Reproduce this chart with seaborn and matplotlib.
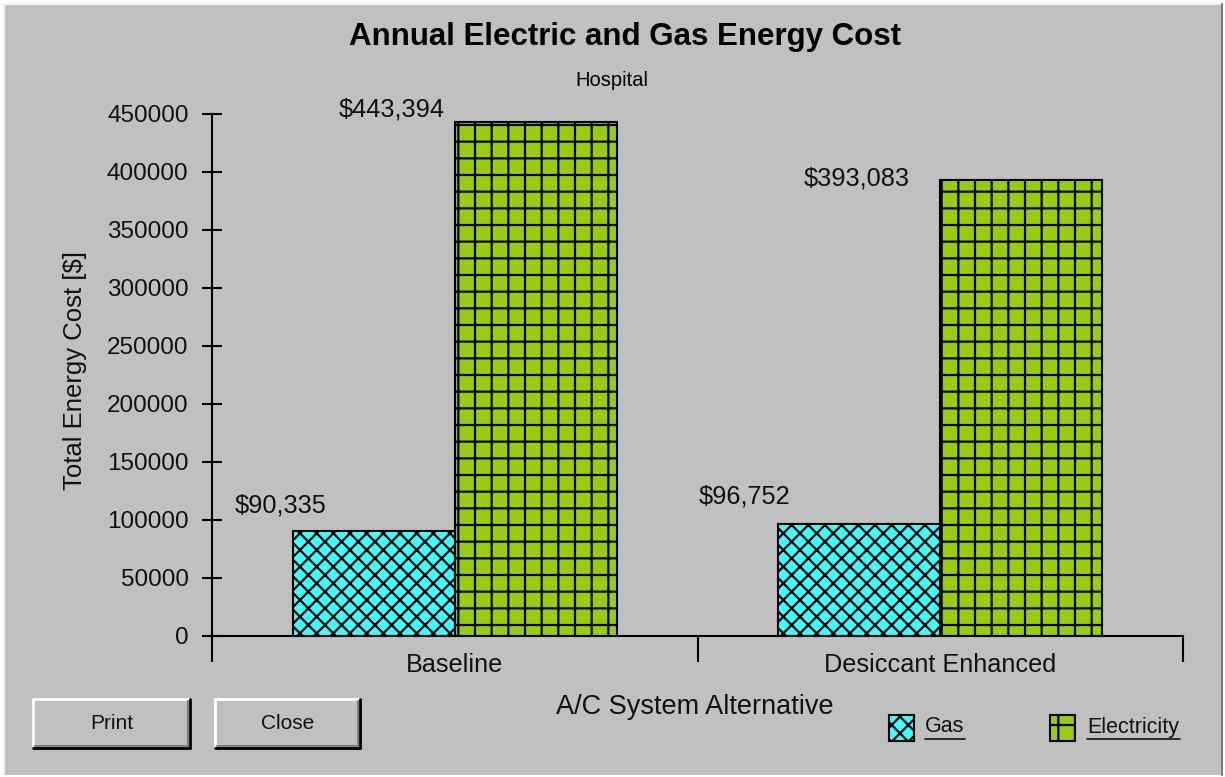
import matplotlib
matplotlib.use("Agg")
import matplotlib.pyplot as plt
from matplotlib.patches import Rectangle
from matplotlib.lines import Line2D
import seaborn as sns
import pandas as pd

# ---- data -------------------------------------------------------------
alternatives = ["Baseline", "Desiccant Enhanced"]
fuels = ["Gas", "Electricity"]
gas_cost = [90335, 96752]
electricity_cost = [443394, 393083]
y_ticks = [0, 50000, 100000, 150000, 200000, 250000, 300000, 350000, 400000, 450000]

title = "Annual Electric and Gas Energy Cost"
subtitle = "Hospital"
x_label = "A/C System Alternative"
y_label = "Total Energy Cost [$]"

# ---- style ------------------------------------------------------------
W, H = 1225, 777
GREY = "#c0c0c0"
fuel_colors = ["#3ffcfc", "#99cc11"]
fuel_hatches = ["xx", "+"]

sns.set_theme(style="white")
plt.rcParams["font.family"] = ["Liberation Sans", "DejaVu Sans"]
plt.rcParams["hatch.linewidth"] = 1.6
plt.rcParams["hatch.color"] = "black"

df = pd.DataFrame({
    "alternative": alternatives * 2,
    "fuel": [fuels[0]] * len(alternatives) + [fuels[1]] * len(alternatives),
    "cost": gas_cost + electricity_cost,
})

fig = plt.figure(figsize=(W / 100, H / 100), dpi=100, facecolor="white")


def fx(x):
    return x / W


def fy(y):
    return 1 - y / H


# window panel with bevelled edges
fig.add_artist(Rectangle((fx(3), fy(775)), fx(1220), (772) / H, transform=fig.transFigure,
                         facecolor=GREY, edgecolor="none", zorder=-10))
fig.add_artist(Line2D([fx(3), fx(1223)], [fy(4), fy(4)], color="#f2f2f2", lw=1.5, transform=fig.transFigure))
fig.add_artist(Line2D([fx(4), fx(4)], [fy(4), fy(775)], color="#f2f2f2", lw=1.5, transform=fig.transFigure))
fig.add_artist(Line2D([fx(1222), fx(1222)], [fy(4), fy(775)], color="#7a7a7a", lw=1.5, transform=fig.transFigure))

ax = fig.add_axes([fx(212), fy(636), (1183 - 212) / W, (636 - 114) / H])
ax.set_facecolor("none")

sns.barplot(data=df, x="alternative", y="cost", hue="fuel", hue_order=fuels,
            order=alternatives, palette=fuel_colors, width=2 / 3, gap=0,
            edgecolor="black", linewidth=1.5, saturation=1, legend=False, ax=ax, zorder=3)

for container, hatch in zip(ax.containers, fuel_hatches):
    for bar in container:
        bar.set_hatch(hatch)

# value labels placed up and to the left of each bar top (offsets in pixels)
label_offsets = [[(-93, 26), (-115, 27)], [(-144, 12), (-164, 2)]]
for container, offsets in zip(ax.containers, label_offsets):
    for bar, (dx, dy) in zip(container, offsets):
        v = bar.get_height()
        ax.annotate(f"${int(round(v)):,}", (bar.get_x() + bar.get_width() / 2, v),
                    xytext=(dx * 0.72, dy * 0.72), textcoords="offset points",
                    ha="center", va="center", fontsize=18.3, color="#111111")

ax.set_xlim(-0.5, 1.5)
ax.set_ylim(0, 450000)
ax.set_yticks(y_ticks)
ax.set_yticklabels([str(t) for t in y_ticks])
ax.set_xticks(range(len(alternatives)))
ax.set_xticks([-0.5, 0.5, 1.5], minor=True)
ax.set_xticklabels(alternatives)
ax.set_xlabel("")
ax.set_ylabel("")

for s in ["top", "right"]:
    ax.spines[s].set_visible(False)
for s in ["left", "bottom"]:
    ax.spines[s].set_color("black")
    ax.spines[s].set_linewidth(1.5)
    ax.spines[s].set_zorder(4)

ax.tick_params(axis="y", direction="inout", length=13.7, width=1.5, color="black",
               labelsize=17.5, pad=10, labelcolor="#111111", left=True)
ax.tick_params(axis="x", which="major", length=0, pad=12, labelsize=18.2, labelcolor="#111111")
ax.tick_params(axis="x", which="minor", direction="out", length=18.5, width=1.5, color="black", bottom=True)

# titles and axis labels
fig.text(fx(625), fy(37), title, ha="center", va="center", fontsize=22.5, fontweight="bold", color="black")
fig.text(fx(612), fy(80), subtitle, ha="center", va="center", fontsize=14.5, color="black")
fig.text(fx(695), fy(707), x_label, ha="center", va="center", fontsize=19.5, color="#111111")
fig.text(fx(75), fy(370), y_label, ha="center", va="center", rotation=90, fontsize=18.5, color="#111111")


# push buttons
def button(x0, y0, x1, y1, label):
    fig.add_artist(Rectangle((fx(x0), fy(y1)), fx(x1 - x0), (y1 - y0) / H, transform=fig.transFigure,
                             facecolor=GREY, edgecolor="none"))
    t = fig.transFigure
    fig.add_artist(Line2D([fx(x0), fx(x1)], [fy(y0), fy(y0)], color="white", lw=2, transform=t))
    fig.add_artist(Line2D([fx(x0), fx(x0)], [fy(y0), fy(y1)], color="white", lw=2, transform=t))
    fig.add_artist(Line2D([fx(x0), fx(x1)], [fy(y1), fy(y1)], color="black", lw=2, transform=t))
    fig.add_artist(Line2D([fx(x1), fx(x1)], [fy(y0), fy(y1)], color="black", lw=2, transform=t))
    fig.add_artist(Line2D([fx(x0 + 2), fx(x1 - 2)], [fy(y1 - 2), fy(y1 - 2)], color="#808080", lw=1.5, transform=t))
    fig.add_artist(Line2D([fx(x1 - 2), fx(x1 - 2)], [fy(y0 + 2), fy(y1 - 2)], color="#808080", lw=1.5, transform=t))
    fig.text(fx((x0 + x1) / 2), fy((y0 + y1) / 2), label, ha="center", va="center", fontsize=15, color="#111111")


button(33, 699, 190, 748, "Print")
button(215, 699, 360, 748, "Close")

# legend with underlined entries
legend_pos = [(889, 925, 965), (1050, 1087, 1180)]
for (px0, tx0, tx1), name, color, hatch in zip(legend_pos, fuels, fuel_colors, fuel_hatches):
    fig.add_artist(Rectangle((fx(px0), fy(741)), fx(25), 26 / H, transform=fig.transFigure,
                             facecolor=color, edgecolor="black", lw=1.5, hatch=hatch))
    fig.text(fx(tx0), fy(727), name, ha="left", va="center", fontsize=15.5, color="#111111")
    fig.add_artist(Line2D([fx(tx0), fx(tx1)], [fy(739), fy(739)], color="#111111", lw=1.2,
                          transform=fig.transFigure))

fig.savefig("out.png", dpi=100, facecolor=fig.get_facecolor())
